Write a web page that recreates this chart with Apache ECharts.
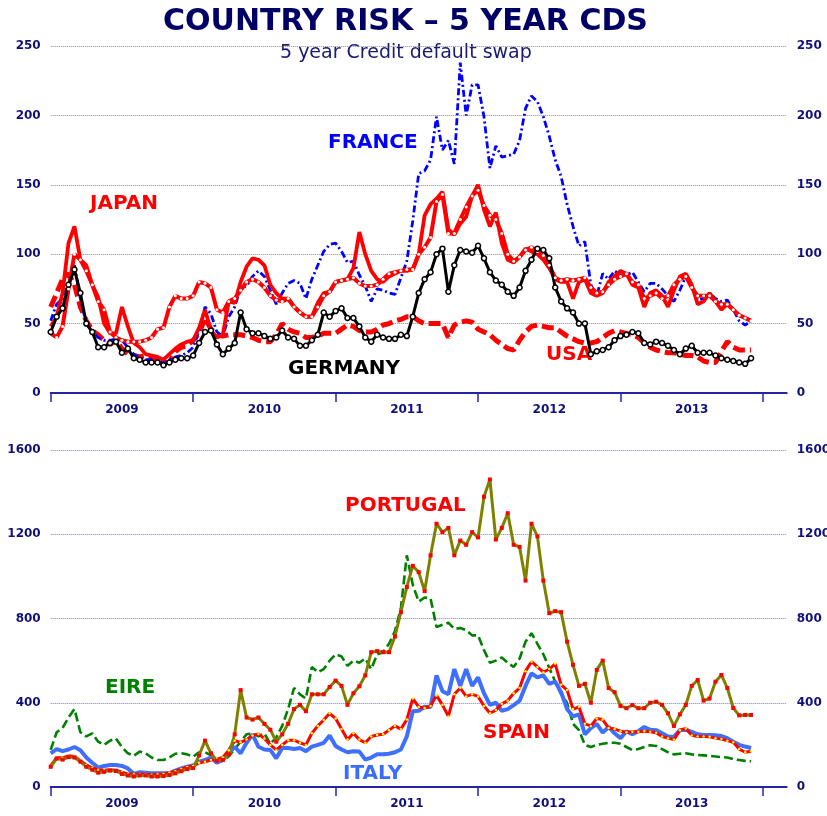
<!DOCTYPE html>
<html>
<head>
<meta charset="utf-8">
<title>Country risk - 5 year CDS</title>
<script src="https://cdn.jsdelivr.net/npm/echarts/dist/echarts.min.js"></script>
<style>
  html, body { margin: 0; padding: 0; background: #fff; }
  #chart { width: 827px; height: 816px; }
</style>
</head>
<body>
<div id="chart"></div>
<script>
// half-month periods, Jan 2009 .. Feb 2014
var yearLabels = ['2009', '2010', '2011', '2012', '2013', '2014'];
var periodsPerYear = 24;
var categories = [];
for (var i = 0; i < 125; i++) {
  categories.push(yearLabels[Math.floor(i / periodsPerYear)] + '-' + (i % periodsPerYear + 1));
}

// top panel (bp)
var france = [52,64,68,80,92,68,50,44,40,38, 38,39,38,33,28,25,24,24,23,22,
  24,26,27,29,33,45,62,57,44,41, 55,62,76,77,84,88,84,74,64,72,
  79,81,79,68,82,92,102,107,108,102, 94,95,85,77,66,75,74,72,71,83,
  95,124,158,160,168,199,175,182,165,238, 200,222,222,199,162,178,170,171,172,182,
  205,214,210,199,185,168,156,136,120,106, 109,78,70,86,82,88,85,85,87,80,
  73,79,79,75,70,66,74,84,76,67, 68,72,68,66,67,60,52,49,52];
var japan = [48,55,72,108,120,96,92,78,69,50, 43,43,62,48,36,33,28,27,26,24,
  28,32,35,37,38,47,60,45,40,42, 66,65,80,91,97,96,92,78,72,68,
  68,62,58,55,55,65,72,73,80,81, 82,90,116,100,88,82,80,84,86,88,
  88,89,100,128,136,140,145,118,114,122, 127,142,150,132,120,130,108,96,94,98,
  104,102,100,96,90,82,80,80,68,80, 82,72,70,72,80,84,88,86,78,76,
  62,72,74,70,62,74,84,86,78,64, 66,72,66,60,64,60,56,54,52];
var redDotted = [43,40,48,75,100,96,88,78,66,60, 44,40,38,37,37,37,38,40,46,47,
  62,70,68,68,70,80,79,76,60,58, 66,68,74,80,82,80,76,70,67,66,
  68,62,58,55,55,62,70,73,80,81, 82,83,79,77,77,78,82,86,87,88,
  89,89,100,105,112,138,143,115,115,125, 134,142,146,135,128,125,115,100,95,98,
  103,105,102,99,92,83,81,82,81,82, 83,76,72,73,78,82,84,86,80,78,
  68,70,72,68,70,78,82,84,76,70, 70,70,66,64,64,60,56,54,52];
var germany = [44,55,61,78,89,72,50,44,33,33, 36,37,29,32,25,24,22,22,22,20,
  22,24,25,25,27,36,44,45,35,28, 32,36,58,46,43,43,41,39,40,45,
  40,39,34,34,38,42,58,55,59,61, 54,54,48,40,37,42,40,39,39,42,
  41,55,72,82,87,100,104,73,92,103, 102,101,106,97,87,81,78,73,70,76,
  88,96,104,103,97,76,66,61,58,50, 50,28,30,31,33,38,41,42,44,43,
  36,35,37,36,34,31,28,32,34,29, 29,29,27,25,24,23,22,21,25];
var usa = [62,72,82,86,78,62,52,45,42,38, 35,38,32,28,27,26,27,26,24,22,
  22,30,33,34,38,43,54,46,42,41, 42,42,42,41,40,38,37,37,42,50,
  46,44,43,40,40,41,43,43,43,46, 49,48,45,44,44,46,49,50,52,53,
  55,55,52,50,50,50,50,40,49,51, 52,51,46,44,42,38,35,32,31,38,
  44,48,49,48,47,47,44,41,39,37, 36,36,37,40,43,45,44,43,42,40,
  36,33,31,30,29,29,28,27,27,26, 23,22,22,30,37,33,31,31,31];

// bottom panel (bp)
var portugal = [96,135,130,142,140,120,96,82,68,72, 78,76,62,55,50,55,55,50,50,52,
  57,65,75,85,90,150,220,160,125,128, 155,250,460,330,320,330,300,272,215,250,
  300,370,390,360,440,440,440,475,505,480, 390,445,478,530,640,645,640,640,715,830,
  950,1050,1020,930,1100,1250,1210,1230,1100,1170, 1150,1210,1185,1378,1460,1175,1230,1300,1150,1140,
  980,1250,1190,980,825,835,830,690,580,480, 490,400,556,600,470,450,385,374,389,374,
  374,400,405,390,350,290,345,390,480,508, 410,420,500,532,470,375,340,342,342];
var eire = [176,260,280,330,370,260,240,255,215,200, 220,230,190,160,148,168,160,140,128,128,
  140,158,160,155,144,165,165,150,118,125, 145,180,215,250,255,240,255,205,235,290,
  370,470,440,420,570,545,560,600,630,620, 575,600,590,610,560,630,640,680,740,850,
  1100,960,880,900,895,760,770,780,750,755, 745,720,720,650,590,600,615,590,570,610,
  690,730,680,630,565,500,440,400,300,270, 200,190,200,205,210,210,205,190,175,180,
  190,198,195,180,165,155,158,160,155,152, 150,148,145,142,140,132,128,124,122];
var spain = [100,140,138,148,145,125,105,90,82,80, 82,80,70,62,60,60,60,58,60,62,
  68,75,85,95,100,115,120,128,132,140, 175,220,212,225,245,252,230,200,176,200,
  222,222,210,200,255,290,318,350,325,275, 225,255,225,210,240,247,250,270,290,275,
  320,420,380,375,385,435,390,335,440,470, 430,440,430,385,350,365,395,410,445,470,
  550,595,570,545,560,585,485,460,370,380, 300,290,325,320,280,275,265,260,262,262,
  265,262,258,240,232,225,270,278,245,240, 240,238,232,228,220,212,180,165,170];
var italy = [160,180,170,178,190,175,140,115,92,100, 104,104,100,88,62,70,68,65,65,65,
  65,78,88,96,102,120,128,140,115,128, 160,191,160,210,250,191,178,176,136,185,
  185,180,185,170,192,200,210,245,195,178, 165,170,168,130,140,155,155,158,165,178,
  240,360,362,381,380,530,455,440,560,480, 560,480,520,445,390,400,362,370,389,410,
  480,540,520,530,490,500,450,370,335,345, 250,280,300,258,285,255,232,265,250,265,
  285,272,270,255,240,238,270,272,262,250, 247,247,246,242,232,215,200,192,185];

var navy = '#10107a';
var labelFont = { color: navy, fontWeight: 'bold', fontSize: 12, fontFamily: 'DejaVu Sans' };

function xAxisFor(gridIndex) {
  return {
    type: 'category',
    gridIndex: gridIndex,
    data: categories,
    boundaryGap: false,
    axisLine: { lineStyle: { color: '#2424a0', width: 2 } },
    axisTick: {
      interval: function (idx) { return idx % periodsPerYear === 0; },
      length: 9,
      lineStyle: { color: '#2424a0', width: 1.5 }
    },
    axisLabel: Object.assign({
      interval: function (idx) { return idx % periodsPerYear === 12; },
      formatter: function (v) { return v.split('-')[0]; },
      margin: 11
    }, labelFont),
    splitLine: { show: false }
  };
}

function yAxisFor(gridIndex, max, step, pos, gridColor) {
  return {
    type: 'value',
    gridIndex: gridIndex,
    min: 0,
    max: max,
    interval: step,
    position: pos,
    axisLine: { show: false },
    axisTick: { show: false },
    axisLabel: Object.assign({ margin: 10, formatter: function (v) { return String(v); } }, labelFont),
    splitLine: { show: pos === 'left', lineStyle: { type: 'dotted', color: gridColor, width: 1 } }
  };
}

function tag(text, x, y, color) {
  return {
    type: 'text',
    left: x,
    top: y - 10,
    style: { text: text, fill: color, font: 'bold 20px "DejaVu Sans"' }
  };
}

var chart = echarts.init(document.getElementById('chart'));
chart.setOption({
  animation: false,
  backgroundColor: '#fff',
  grid: [
    { left: 50.7, top: 46, width: 736, height: 347, outerBoundsMode: 'none' },
    { left: 50.7, top: 450, width: 736, height: 337, outerBoundsMode: 'none' }
  ],
  xAxis: [xAxisFor(0), xAxisFor(1)],
  yAxis: [
    yAxisFor(0, 250, 50, 'left', '#8a8a8a'),
    yAxisFor(0, 250, 50, 'right', '#8a8a8a'),
    yAxisFor(1, 1600, 400, 'left', '#7a7acc'),
    yAxisFor(1, 1600, 400, 'right', '#7a7acc')
  ],
  graphic: [
    {
      type: 'text', left: 163, top: 7,
      style: { text: 'COUNTRY RISK \u2013 5 YEAR CDS', fill: '#000066', font: 'bold 30px "DejaVu Sans"' }
    },
    {
      type: 'text', left: 280, top: 44,
      style: { text: '5 year Credit default swap', fill: '#1a1a70', font: '19px "DejaVu Sans"' }
    },
    tag('FRANCE', 328, 143, '#0000ff'),
    tag('JAPAN', 90, 204, '#ff0000'),
    tag('GERMANY', 288, 369, '#000000'),
    tag('USA', 546, 355, '#ff0000'),
    tag('PORTUGAL', 345, 506, '#ff0000'),
    tag('EIRE', 105, 688, '#008000'),
    tag('SPAIN', 483, 733, '#ff0000'),
    tag('ITALY', 343, 774, '#3a6cff')
  ],
  series: [
    {
      name: 'USA', type: 'line', xAxisIndex: 0, yAxisIndex: 0, data: usa,
      showSymbol: false, lineStyle: { color: '#ff0000', width: 5, type: [12, 5] }
    },
    {
      name: 'France', type: 'line', xAxisIndex: 0, yAxisIndex: 0, data: france,
      showSymbol: false, lineStyle: { color: '#0000ff', width: 2.8, type: [7, 3, 2, 3] }
    },
    {
      name: 'Japan', type: 'line', xAxisIndex: 0, yAxisIndex: 0, data: japan,
      showSymbol: false, lineStyle: { color: '#ff0000', width: 3.8 }
    },
    {
      name: 'Red dotted', type: 'line', xAxisIndex: 0, yAxisIndex: 0, data: redDotted,
      showAllSymbol: true, symbol: 'circle', symbolSize: 3,
      itemStyle: { color: '#ffffff', borderWidth: 0 },
      lineStyle: { color: '#ff0000', width: 4 }
    },
    {
      name: 'Germany', type: 'line', xAxisIndex: 0, yAxisIndex: 0, data: germany,
      showAllSymbol: true, symbol: 'circle', symbolSize: 5,
      itemStyle: { color: '#ffffff', borderColor: '#000000', borderWidth: 1.5 },
      lineStyle: { color: '#000000', width: 3 }
    },
    {
      name: 'Eire', type: 'line', xAxisIndex: 1, yAxisIndex: 2, data: eire,
      showSymbol: false, lineStyle: { color: '#008000', width: 2.6, type: [9, 4] }
    },
    {
      name: 'Italy', type: 'line', xAxisIndex: 1, yAxisIndex: 2, data: italy,
      showSymbol: false, lineStyle: { color: '#3f6fff', width: 4 }
    },
    {
      name: 'Spain', type: 'line', xAxisIndex: 1, yAxisIndex: 2, data: spain,
      showAllSymbol: true, symbol: 'circle', symbolSize: 2.5,
      itemStyle: { color: '#ffff00', borderWidth: 0 },
      lineStyle: { color: '#ff0000', width: 3 }
    },
    {
      name: 'Portugal', type: 'line', xAxisIndex: 1, yAxisIndex: 2, data: portugal,
      showAllSymbol: true, symbol: 'rect', symbolSize: 4,
      itemStyle: { color: '#ff0000', borderWidth: 0 },
      lineStyle: { color: '#808000', width: 3 }
    }
  ]
});
</script>
</body>
</html>
